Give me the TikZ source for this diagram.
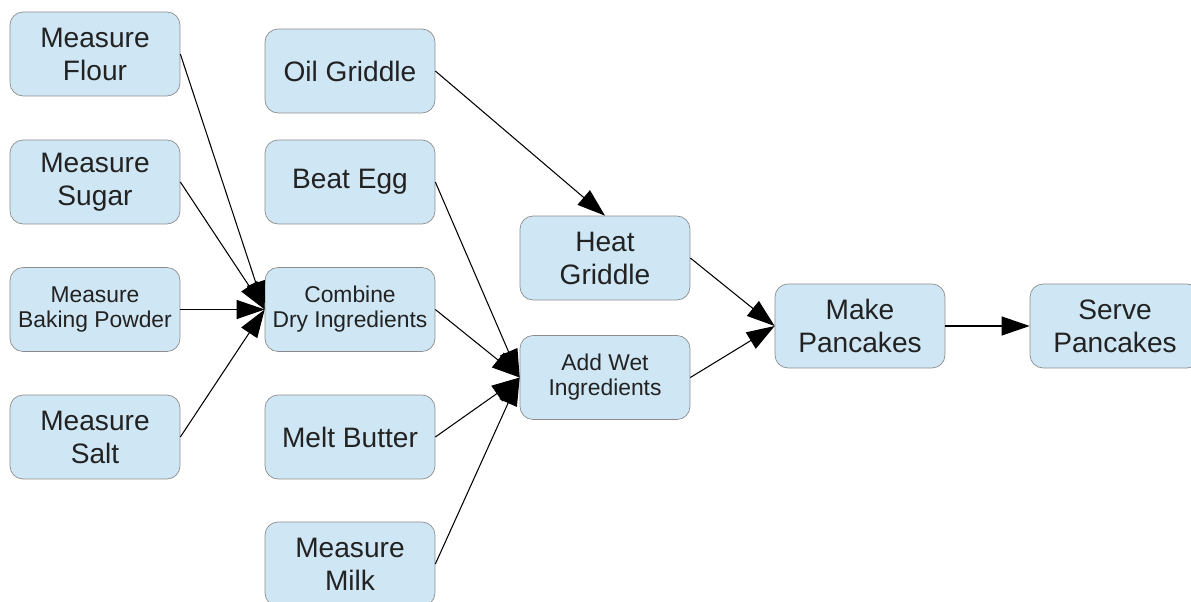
\documentclass[tikz,border=0pt]{standalone}
\usepackage{fontspec}
\setmainfont{Liberation Sans}
\usetikzlibrary{arrows.meta}
\definecolor{boxfill}{HTML}{CFE6F4}
\definecolor{boxline}{HTML}{8C8C8C}
\definecolor{boxtext}{HTML}{222222}
\begin{document}
\begin{tikzpicture}[x=0.02cm, y=-0.02cm,
    task/.style={draw=boxline, fill=boxfill, rounded corners=0.26cm, thin,
      minimum width=3.4cm, minimum height=1.68cm, align=center, text=boxtext,
      font=\fontsize{16}{18.8}\selectfont},
    smalltask/.style={task, font=\fontsize{13}{14.3}\selectfont},
    flow/.style={-{Triangle[length=0.56cm, width=0.38cm]}, line width=0.6pt, black}]
  \useasboundingbox (0,0) rectangle (1191,602);
  % measuring
  \node[task] (flour) at (95,54) {Measure\\Flour};
  \node[task] (sugar) at (95,182) {Measure\\Sugar};
  \node[smalltask] (powder) at (95,309.5) {Measure\\Baking Powder};
  \node[task] (salt) at (95,437) {Measure\\Salt};
  % preparing
  \node[task] (oil) at (350,71) {Oil Griddle};
  \node[task] (egg) at (350,182) {Beat Egg};
  \node[smalltask] (dry) at (350,309.5) {Combine\\Dry Ingredients};
  \node[task] (butter) at (350,437) {Melt Butter};
  \node[task] (milk) at (350,564) {Measure\\Milk};
  % mixing and cooking
  \node[task] (heat) at (605,258) {Heat\\Griddle};
  \node[smalltask] (wet) at (605,377.5) {Add Wet\\Ingredients};
  \node[task] (make) at (860,326) {Make\\Pancakes};
  \node[task] (serve) at (1115,326) {Serve\\Pancakes};
  \foreach \src in {flour,sugar,powder,salt}
    \draw[flow] (\src.east) -- (dry.west);
  \foreach \src in {egg,dry,butter,milk}
    \draw[flow] (\src.east) -- (wet.west);
  \draw[flow] (oil.east) -- (heat.north);
  \draw[flow] (heat.east) -- (make.west);
  \draw[flow] (wet.east) -- (make.west);
  \draw[flow] (make.east) -- (serve.west);
\end{tikzpicture}
\end{document}
